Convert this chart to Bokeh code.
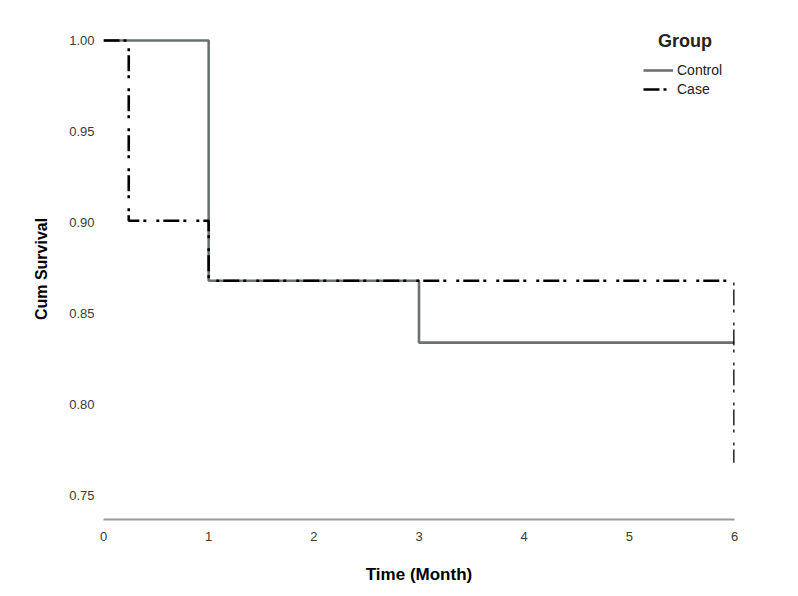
from bokeh.plotting import figure
from bokeh.models import Range1d, FixedTicker, Legend, LegendItem, CustomJSTickFormatter, Label
from bokeh.embed import file_html
from bokeh.resources import INLINE

# Kaplan-Meier step data
control_time = [0, 1, 3, 6]
control_surv = [1.0, 0.868, 0.834, 0.834]
case_time = [0, 0.24, 1, 6, 6]
case_surv = [1.0, 0.901, 0.868, 0.868, 0.768]
x_ticks = [0, 1, 2, 3, 4, 5, 6]
y_ticks = [0.75, 0.80, 0.85, 0.90, 0.95, 1.00]

FONT = "Liberation Sans"

p = figure(width=798, height=596, output_backend="svg", toolbar_location=None,
           x_range=Range1d(0, 6), y_range=Range1d(0.7368, 1.0121),
           min_border_left=103, min_border_right=64, min_border_top=18, min_border_bottom=77)
p.outline_line_color = None
p.grid.grid_line_color = None
p.background_fill_color = "white"
p.border_fill_color = "white"

r_ctrl = p.step(control_time, control_surv, mode="after", line_color="#6b716f", line_width=2.6)
r_case = p.step(case_time, case_surv, mode="after", line_color="black", line_width=2.6,
                line_dash="16 4 3 10 3 4")

p.xaxis.ticker = FixedTicker(ticks=x_ticks)
p.yaxis.ticker = FixedTicker(ticks=y_ticks)
p.yaxis.formatter = CustomJSTickFormatter(code="return tick.toFixed(2);")

for ax in (p.xaxis[0], p.yaxis[0]):
    ax.major_tick_line_color = None
    ax.minor_tick_line_color = None
    ax.major_label_text_font = FONT
    ax.major_label_text_font_size = "13px"
    ax.major_label_text_color = "#3a3a3a"
    ax.axis_label_text_font = FONT
    ax.axis_label_text_font_style = "bold"
    ax.axis_label_text_color = "black"

p.xaxis.axis_label_text_font_size = "17px"
p.yaxis.axis_label_text_font_size = "16px"
p.xaxis.axis_line_color = "#9a9a9a"
p.xaxis.axis_line_width = 2
p.yaxis.axis_line_color = None
p.xaxis.axis_label = "Time (Month)"
p.yaxis.axis_label = "Cum Survival"
p.xaxis.major_label_standoff = 6
p.xaxis.axis_label_standoff = 21
p.yaxis.major_label_standoff = 3
p.yaxis.axis_label_standoff = 16

legend = Legend(items=[LegendItem(label="Control", renderers=[r_ctrl]),
                       LegendItem(label="Case", renderers=[r_case])],
                location=(540, 422))
legend.label_text_font = FONT
legend.label_text_font_size = "14px"
legend.label_text_color = "#222222"
legend.border_line_color = None
legend.background_fill_alpha = 0
legend.glyph_width = 30
legend.glyph_height = 16
legend.label_standoff = 4
legend.label_height = 16
legend.spacing = 3
legend.margin = 0
legend.padding = 6
p.add_layout(legend)

title = Label(x=5.53, y=1.0, text="Group", text_font=FONT, text_font_style="bold",
              text_font_size="18px", text_align="center", text_baseline="middle",
              text_color="#222222")
p.add_layout(title)

open("out.html", "w").write(file_html(p, INLINE))
